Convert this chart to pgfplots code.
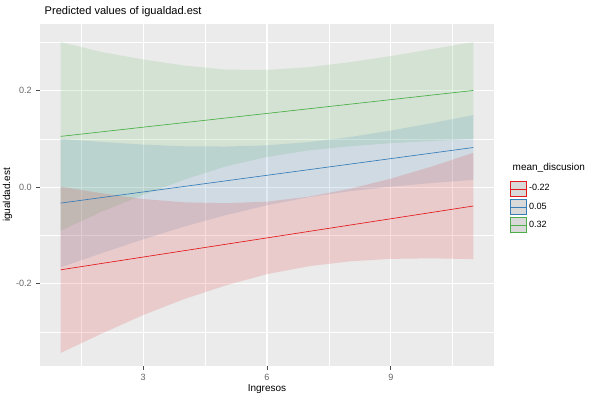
\documentclass[border=0pt]{standalone}
\usepackage{pgfplots}
\pgfplotsset{compat=1.18}
\usepackage{fontspec}
\setmainfont{Liberation Sans}
\definecolor{bg}{HTML}{EBEBEB}
\definecolor{cr}{HTML}{E41A1C}
\definecolor{cb}{HTML}{377EB8}
\definecolor{cg}{HTML}{4DAF4A}
\begin{document}
\begin{tikzpicture}[x=0.75pt,y=0.75pt]
\useasboundingbox (-40,-34) rectangle (560,366);
\begin{axis}[
  at={(0,0)}, anchor=south west, scale only axis,
  width=340.5pt, height=256.5pt,
  xmin=0.5, xmax=11.5, ymin=-0.37, ymax=0.3375,
  axis background/.style={fill=bg}, axis line style={draw=none},
  xtick={3,6,9}, ytick={-0.2,0,0.2},
  yticklabels={-0.2,0.0,0.2},
  minor xtick={1.5,4.5,7.5,10.5}, minor ytick={-0.3,-0.1,0.1,0.3},
  grid=both, major grid style={white, line width=0.8pt}, minor grid style={white, line width=0.4pt},
  tick style={gray!60!black, line width=0.5pt}, major tick length=2.7pt, minor tick length=0pt,
  tick align=outside, xtick pos=bottom, ytick pos=left,
  ticklabel style={font=\fontsize{6.8}{8}\selectfont, text=black!60},
  /pgf/number format/assume math mode=true,
  xlabel={Ingresos}, ylabel={igualdad.est},
  label style={font=\fontsize{7.5}{9}\selectfont},
  xlabel style={yshift=4pt}, ylabel style={yshift=-4pt},
  title={Predicted values of igualdad.est}, title style={font=\fontsize{8.3}{10}\selectfont, anchor=south west, at={(0,1)}, yshift=-4pt},
  legend style={at={(1.025,0.465)}, anchor=west, draw=none, fill=none, font=\fontsize{6.8}{8}\selectfont, row sep=2pt},
  legend cell align=left,
  clip=true,
]
\addplot[fill=cg, fill opacity=0.15, draw=none, forget plot] coordinates {
(1,0.300)(2,0.2795)(3,0.264)(4,0.2515)(5,0.243)(6,0.2425)(7,0.248)(8,0.2585)(9,0.271)(10,0.2855)(11,0.300)
(11,0.100)(10,0.0955)(9,0.091)(8,0.0845)(7,0.076)(6,0.0625)(5,0.043)(4,0.0155)(3,-0.016)(2,-0.0505)(1,-0.090)} -- cycle;
\addplot[fill=cb, fill opacity=0.15, draw=none, forget plot] coordinates {
(1,0.100)(2,0.0935)(3,0.088)(4,0.0845)(5,0.084)(6,0.0865)(7,0.093)(8,0.1035)(9,0.117)(10,0.1325)(11,0.149)
(11,0.015)(10,0.0085)(9,0.001)(8,-0.0085)(7,-0.021)(6,-0.0375)(5,-0.058)(4,-0.0815)(3,-0.108)(2,-0.1365)(1,-0.166)} -- cycle;
\addplot[fill=cr, fill opacity=0.15, draw=none, forget plot] coordinates {
(1,0.001)(2,-0.0128)(3,-0.0246)(4,-0.0314)(5,-0.0332)(6,-0.030)(7,-0.0198)(8,-0.0036)(9,0.0176)(10,0.0428)(11,0.071)
(11,-0.149)(10,-0.1472)(9,-0.1484)(8,-0.1536)(7,-0.1638)(6,-0.180)(5,-0.2032)(4,-0.2314)(3,-0.2646)(2,-0.3028)(1,-0.343)} -- cycle;
\pgfplotsset{every axis plot/.append style={legend image code/.code={
  \draw[#1, fill=gray!30, line width=0.6pt] (0pt,-5.5pt) rectangle (12pt,5.5pt);
  \draw[#1, line width=0.4pt] (0pt,0pt) -- (12pt,0pt);}}}
\addplot[draw=cr, line width=0.5pt] coordinates {(1,-0.171)(11,-0.039)};
\addlegendentry{-0.22}
\addplot[draw=cb, line width=0.5pt] coordinates {(1,-0.033)(11,0.082)};
\addlegendentry{0.05}
\addplot[draw=cg, line width=0.5pt] coordinates {(1,0.105)(11,0.200)};
\addlegendentry{0.32}
\end{axis}
\node[anchor=south west, font=\fontsize{7.5}{9}\selectfont] at (468,189) {mean\_discusion};
\end{tikzpicture}
\end{document}
